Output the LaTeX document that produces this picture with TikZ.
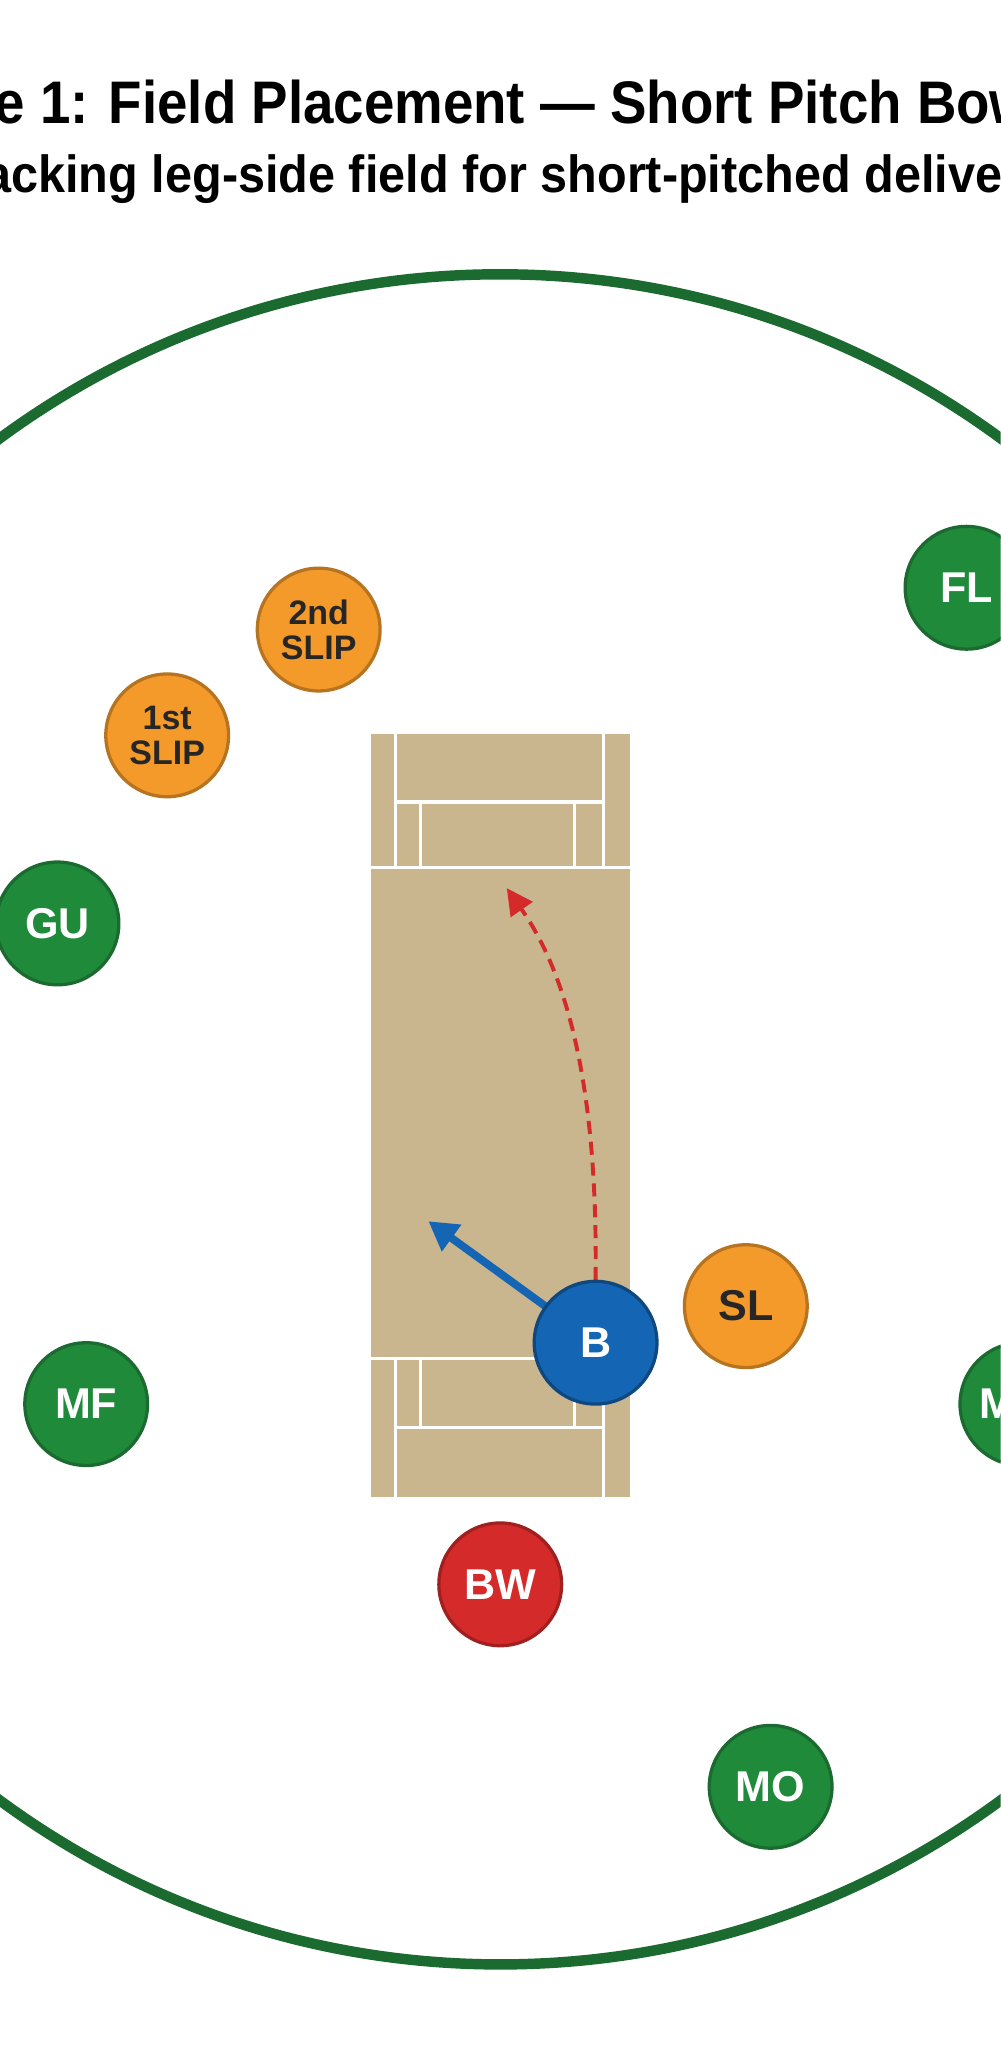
\documentclass[tikz,border=0pt]{standalone}
\usepackage{fontspec}
\setmainfont{Liberation Sans}
\usetikzlibrary{arrows.meta}
\definecolor{fieldgreen}{HTML}{1E8A3A}
\definecolor{darkgreen}{HTML}{1B6B30}
\definecolor{slipor}{HTML}{F39A2B}
\definecolor{pitchtan}{HTML}{C9B68E}
\definecolor{batblue}{HTML}{1565B5}
\definecolor{bowlred}{HTML}{D52A2A}
\begin{document}
\begin{tikzpicture}[x=1pt,y=-1pt]
\tikzstyle{Fielder}=[
shape = circle,
minimum size = 94pt,
inner sep = 0pt,
line width = 2.5pt,
font = \bfseries\fontsize{33}{33}\selectfont]
\tikzstyle{Green}=[Fielder, fill = fieldgreen, draw = darkgreen, text = white]
\tikzstyle{Orange}=[Fielder, fill = slipor, draw = slipor!75!black, text = black!85]
\tikzstyle{Crease}=[draw = white, line width = 2.5pt]
\useasboundingbox (0,0) rectangle (766,1568);
\clip (0,0) rectangle (766,1568);
\fill[white] (0,0) rectangle (766,1568);
% titles
\node[font=\bfseries\fontsize{46}{46}\selectfont, xscale=0.91] (title) at (378,83) {Figure 1: Field Placement — Short Pitch Bowling};
\node[font=\bfseries\fontsize{40}{40}\selectfont, xscale=0.93] (subtitle) at (385,137) {Attacking leg-side field for short-pitched deliveries};
% boundary
\draw[darkgreen, line width = 8pt] (383,857) circle (647);
% pitch
\fill[pitchtan] (284,562) rectangle (482,1146);
\draw[Crease] (303,562) -- (303,664) (462,562) -- (462,664) (303,614) -- (462,614)
  (322,614) -- (322,664) (440,614) -- (440,664) (284,664) -- (482,664);
\draw[Crease] (303,1146) -- (303,1040) (462,1146) -- (462,1040) (303,1093) -- (462,1093)
  (322,1093) -- (322,1040) (440,1093) -- (440,1040) (284,1040) -- (482,1040);
% fielders
\node[Green] (fl) at (740,450) {FL};
\node[Orange, font = \bfseries\fontsize{26}{27}\selectfont, align = center] (slip2) at (244,482) {2nd\\SLIP};
\node[Orange, font = \bfseries\fontsize{26}{27}\selectfont, align = center] (slip1) at (128,563) {1st\\SLIP};
\node[Green] (gu) at (44,707) {GU};
\node[Orange] (sl) at (571,1000) {SL};
\node[Green] (mf) at (66,1075) {MF};
\node[Green] (mi) at (782,1075) {M\hphantom{MI}};
\node[Fielder, fill = bowlred, draw = bowlred!75!black, text = white] (bw) at (383,1213) {BW};
\node[Green] (mo) at (590,1368) {MO};
\coordinate (shot) at (328,935);
\coordinate (ball) at (388,680);
\draw[batblue, line width = 6pt, -{Triangle[length=22pt,width=24pt]}] (456,1028) -- (shot);
\draw[bowlred, line width = 3pt, dashed, dash pattern = on 10pt off 6pt, -{Triangle[length=20pt,width=20pt]}]
  (456,980) .. controls (458,820) and (430,740) .. (ball);
\node[Fielder, fill = batblue, draw = batblue!70!black, text = white] (bat) at (456,1028) {B};
\end{tikzpicture}
\end{document}
